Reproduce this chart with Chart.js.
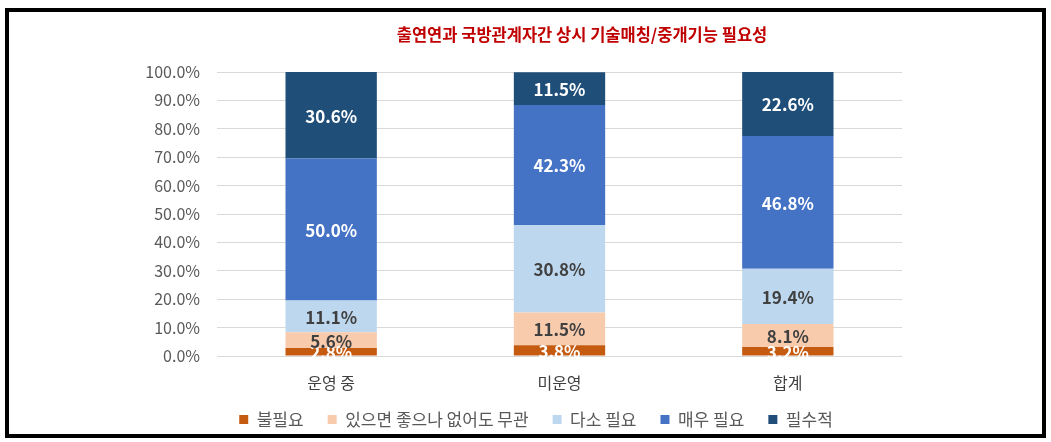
<!DOCTYPE html>
<html>
<head>
<meta charset="utf-8">
<script src="https://cdn.jsdelivr.net/npm/chart.js@4"></script>
<style>
    body { margin: 0; background: #fff; }
    #wrap { position: relative; width: 1051px; height: 442px; }
    #frame {
        position: absolute; left: 5px; top: 8px; width: 1041px; height: 430px;
        border: 4px solid #000; box-sizing: border-box; pointer-events: none;
    }
</style>
</head>
<body>
<div id="wrap">
    <canvas id="chart" width="1051" height="442"></canvas>
    <div id="frame"></div>
</div>
<script>
const chartTitle = '출연연과 국방관계자간 상시 기술매칭/중개기능 필요성';
const categories = ['운영 중', '미운영', '합계'];
const seriesNames = ['불필요', '있으면 좋으나 없어도 무관', '다소 필요', '매우 필요', '필수적'];
const notNeeded = [2.8, 3.8, 3.2];
const niceToHave = [5.6, 11.5, 8.1];
const somewhatNeeded = [11.1, 30.8, 19.4];
const veryNeeded = [50.0, 42.3, 46.8];
const essential = [30.6, 11.5, 22.6];

const seriesColors = ['#C55A11', '#F8CBAD', '#BDD7EE', '#4472C4', '#1F4E79'];
const labelColors = ['#FFFFFF', '#404040', '#404040', '#FFFFFF', '#FFFFFF'];
const FONT = "'Malgun Gothic', 'Noto Sans CJK KR', sans-serif";

// Title + value labels drawn on top
const overlayPlugin = {
    id: 'overlay',
    afterLayout(chart) {
        // let the category labels hang below the (short) x axis box without being clipped
        chart.scales.x.bottom = chart.scales.x.top + 40;
    },
    afterDatasetsDraw(chart) {
        const ctx = chart.ctx;
        ctx.save();
        ctx.textAlign = 'center';
        ctx.textBaseline = 'middle';
        ctx.font = 'bold 17px ' + FONT;
        chart.data.datasets.forEach((ds, i) => {
            const meta = chart.getDatasetMeta(i);
            ctx.fillStyle = labelColors[i];
            meta.data.forEach((bar, j) => {
                const y = (bar.y + bar.base) / 2;
                ctx.fillText(ds.data[j].toFixed(1) + '%', bar.x, y + 1);
            });
        });
        ctx.font = 'bold 16.5px ' + FONT;
        ctx.fillStyle = '#C00000';
        ctx.fillText(chartTitle, 582, 35);
        ctx.restore();
    }
};

const ctx = document.getElementById('chart').getContext('2d');
new Chart(ctx, {
    type: 'bar',
    data: {
        labels: categories,
        datasets: [notNeeded, niceToHave, somewhatNeeded, veryNeeded, essential].map((d, i) => ({
            label: seriesNames[i],
            data: d,
            backgroundColor: seriesColors[i],
            borderWidth: 0,
            categoryPercentage: 1,
            barPercentage: 0.4
        }))
    },
    options: {
        responsive: false,
        animation: false,
        layout: { padding: { left: 137, right: 116, top: 72, bottom: 4 } },
        plugins: {
            title: { display: false },
            tooltip: { enabled: false },
            legend: {
                position: 'bottom',
                labels: {
                    boxWidth: 9,
                    boxHeight: 9,
                    padding: 24,
                    color: '#595959',
                    font: { family: FONT, size: 17 }
                }
            }
        },
        scales: {
            x: {
                stacked: true,
                grid: { display: false },
                border: { display: false },
                ticks: { color: '#404040', padding: 9, font: { family: FONT, size: 16 } },
                afterFit: s => { s.height = 31; }
            },
            y: {
                stacked: true,
                min: 0,
                max: 100,
                grid: { color: '#D9D9D9', drawTicks: false },
                border: { display: false },
                ticks: {
                    stepSize: 10,
                    padding: 17,
                    color: '#595959',
                    font: { family: FONT, size: 16 },
                    callback: v => v.toFixed(1) + '%'
                },
                afterFit: s => { s.width = 80; }
            },
            // empty spacer on the right so the legend sits where the original does
            spacer: {
                position: 'right',
                grid: { display: false },
                border: { display: false },
                ticks: { display: false },
                afterFit: s => { s.width = 33; }
            }
        }
    },
    plugins: [overlayPlugin]
});
</script>
</body>
</html>
